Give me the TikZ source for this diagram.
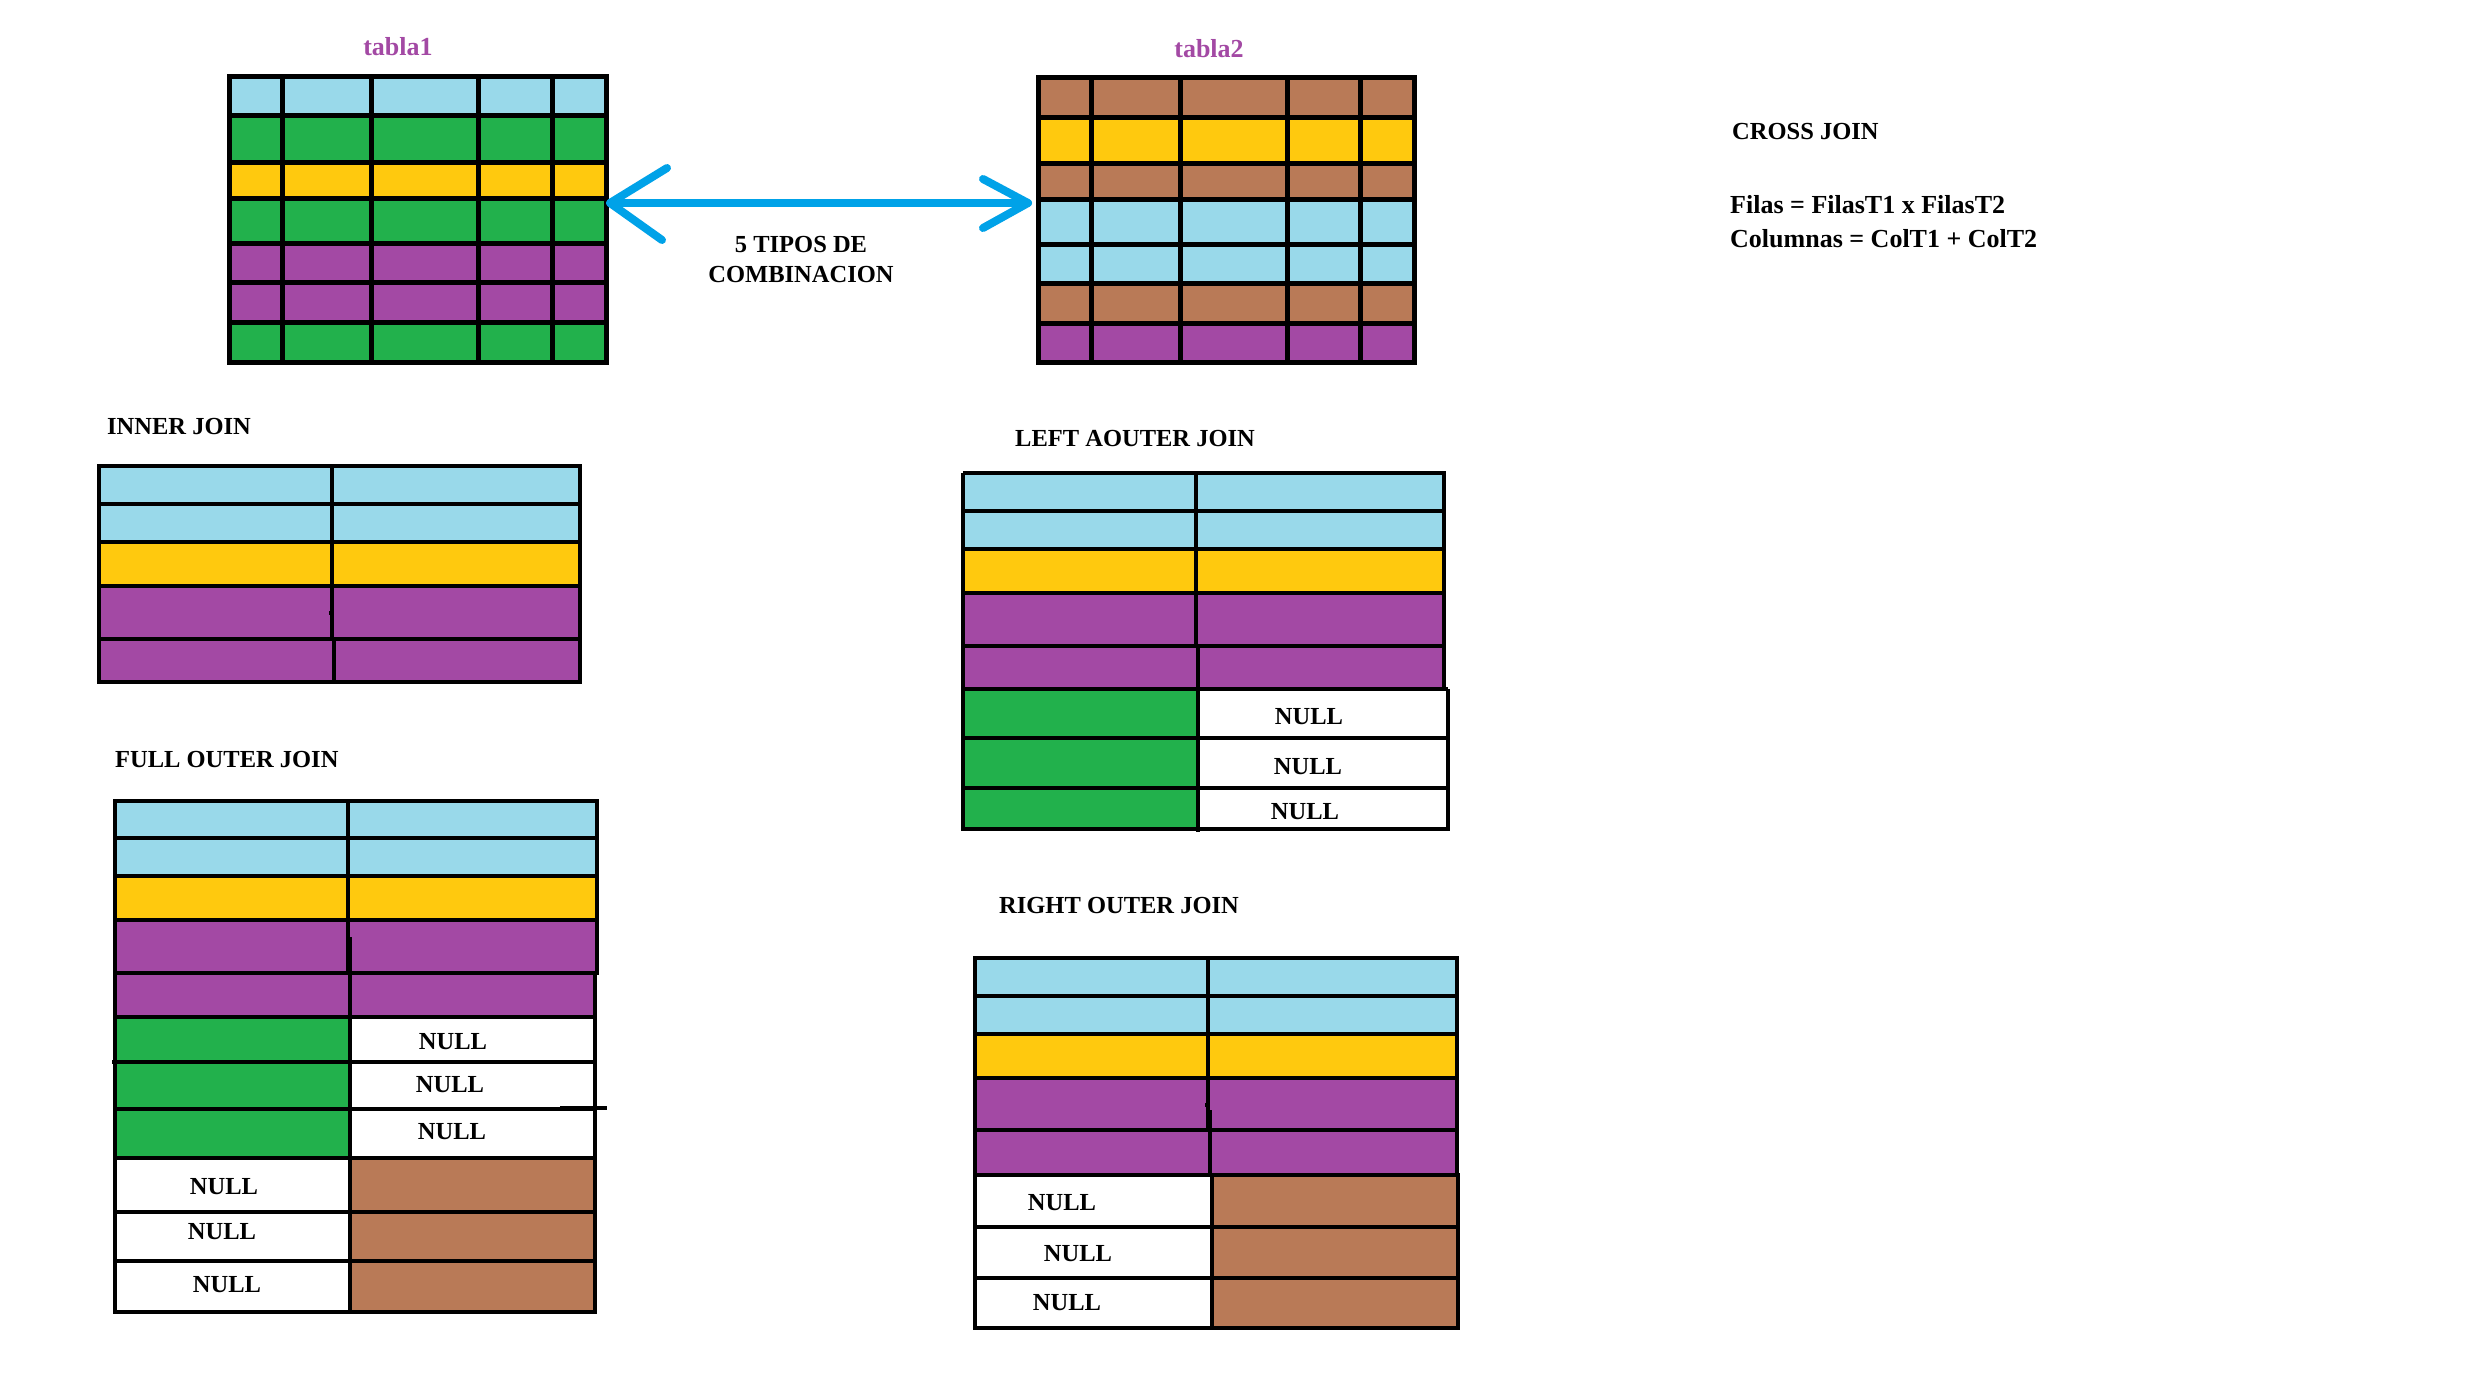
\documentclass[tikz,border=0pt]{standalone}
\usepackage{fontspec}
\setmainfont{Liberation Serif}
\definecolor{cBlue}{HTML}{99D9EA}
\definecolor{cGreen}{HTML}{22B14C}
\definecolor{cYellow}{HTML}{FFC90E}
\definecolor{cPurple}{HTML}{A349A4}
\definecolor{cBrown}{HTML}{B97A57}
\definecolor{cArrow}{HTML}{00A2E8}
\tikzset{
  txt/.style={font=\fontsize{24.5}{28}\selectfont\bfseries, inner sep=0pt, anchor=base west},
  formula/.style={font=\fontsize{26}{30}\selectfont\bfseries, inner sep=0pt, anchor=base west},
  ctxt/.style={font=\fontsize{24.5}{28}\selectfont\bfseries, inner sep=0pt},
  nulltxt/.style={font=\fontsize{24.5}{28}\selectfont\bfseries, inner sep=0pt},
  biggrid/.style={line width=5pt, black},
  joingrid/.style={line width=3.2pt, black},
  bluearrow/.style={line width=8pt, cArrow, line cap=round, line join=round}
}
\begin{document}
\begin{tikzpicture}[x=1pt,y=-1pt]
\useasboundingbox[fill=white] (0,0) rectangle (2475,1397);

% ---------- tabla1 ----------
\node[ctxt, anchor=base, text=cPurple, font=\fontsize{26}{30}\selectfont\bfseries] (lbl1) at (398,56) {tabla1};
\foreach \ya/\yb/\c in {76/115/cBlue,115/162/cGreen,162/198/cYellow,198/243/cGreen,243/282/cPurple,282/322/cPurple,322/362/cGreen}
  \fill[\c] (229,\ya) rectangle (606,\yb);
\foreach \y in {115,162,198,243,282,322} \draw[biggrid] (229,\y) -- (606,\y);
\foreach \x in {282,371,478,552} \draw[biggrid] (\x,74) -- (\x,362);
\draw[biggrid] (229,76) rectangle (606,362);

% ---------- tabla2 ----------
\node[ctxt, anchor=base, text=cPurple, font=\fontsize{26}{30}\selectfont\bfseries] (lbl2) at (1209,58) {tabla2};
\foreach \ya/\yb/\c in {77/117/cBrown,117/163/cYellow,163/199/cBrown,199/244/cBlue,244/283/cBlue,283/323/cBrown,323/362/cPurple}
  \fill[\c] (1038,\ya) rectangle (1414,\yb);
\foreach \y in {117,163,199,244,283,323} \draw[biggrid] (1038,\y) -- (1414,\y);
\foreach \x in {1091,1180,1287,1360} \draw[biggrid] (\x,75) -- (\x,362);
\draw[biggrid] (1038,77) rectangle (1414,362);

% ---------- double arrow between the tables ----------
\coordinate (tipL) at (610,203);
\coordinate (tipR) at (1028,203);
\draw[bluearrow] (tipL) -- (tipR);
\draw[bluearrow] (667,168) -- (tipL) -- (662,240);
\draw[bluearrow] (983,179) -- (tipR) -- (983,228);
\node[ctxt] (tipos) at (801,245) {5 TIPOS DE};
\node[ctxt] (comb) at (801,275) {COMBINACION};

% ---------- cross join ----------
\node[txt] (cross) at (1732,139) {CROSS JOIN};
\node[formula] (filas) at (1730,213) {Filas = FilasT1 x FilasT2};
\node[formula] (cols) at (1730,247) {Columnas = ColT1 + ColT2};

% ---------- inner join ----------
\node[txt] (inner) at (107,434) {INNER JOIN};
\foreach \ya/\yb/\c in {466/504/cBlue,504/542/cBlue,542/586/cYellow,586/639/cPurple,639/682/cPurple}
  \fill[\c] (99,\ya) rectangle (580,\yb);
\foreach \y in {504,542,586,639} \draw[joingrid] (99,\y) -- (580,\y);
\draw[joingrid] (332,466) -- (332,639);
\draw[joingrid] (334,639) -- (334,682);
\draw[joingrid] (329,613) -- (334,613);
\draw[joingrid] (99,466) rectangle (580,682);

% ---------- left outer join ----------
\node[txt] (left) at (1015,446) {LEFT AOUTER JOIN};
\foreach \ya/\yb/\c in {473/511/cBlue,511/549/cBlue,549/593/cYellow,593/646/cPurple,646/689/cPurple}
  \fill[\c] (963,\ya) rectangle (1444,\yb);
\fill[cGreen] (963,689) rectangle (1198,829);
\fill[white] (1198,689) rectangle (1448,829);
\foreach \y in {511,549,593,646} \draw[joingrid] (963,\y) -- (1444,\y);
\draw[joingrid] (963,689) -- (1448,689);
\foreach \y in {738,788} \draw[joingrid] (963,\y) -- (1448,\y);
\draw[joingrid] (963,473) -- (1444,473) -- (1444,689);
\draw[joingrid] (1448,689) -- (1448,829) -- (963,829) -- (963,473);
\draw[joingrid] (1196,473) -- (1196,646);
\draw[joingrid] (1198,646) -- (1198,832);
\draw[joingrid] (1194,620) -- (1198,620);
\node[nulltxt] (ln1) at (1309,717) {NULL};
\node[nulltxt] (ln2) at (1308,767) {NULL};
\node[nulltxt] (ln3) at (1305,812) {NULL};

% ---------- full outer join ----------
\node[txt] (full) at (115,767) {FULL OUTER JOIN};
\foreach \ya/\yb/\c in {801/838/cBlue,838/876/cBlue,876/920/cYellow,920/973/cPurple,973/1017/cPurple}
  \fill[\c] (115,\ya) rectangle (597,\yb);
\fill[cGreen] (115,1017) rectangle (350,1158);
\fill[white] (350,1017) rectangle (595,1158);
\fill[white] (115,1158) rectangle (350,1312);
\fill[cBrown] (350,1158) rectangle (595,1312);
\foreach \y in {838,920,973} \draw[joingrid] (115,\y) -- (597,\y);
\draw[joingrid] (115,876) -- (599,876);
\foreach \y in {1017,1109,1158,1212,1261} \draw[joingrid] (115,\y) -- (595,\y);
\draw[joingrid] (112,1062) -- (595,1062);
\draw[joingrid] (560,1108) -- (607,1108);
\draw[joingrid] (115,801) -- (597,801) -- (597,973) -- (595,973) -- (595,1312) -- (115,1312) -- cycle;
\draw[joingrid] (348,801) -- (348,973);
\draw[joingrid] (350,937) -- (350,1312);
\draw[joingrid] (346,947) -- (350,947);
\node[nulltxt] (fn1) at (453,1042) {NULL};
\node[nulltxt] (fn2) at (450,1085) {NULL};
\node[nulltxt] (fn3) at (452,1132) {NULL};
\node[nulltxt] (fn4) at (224,1187) {NULL};
\node[nulltxt] (fn5) at (222,1232) {NULL};
\node[nulltxt] (fn6) at (227,1285) {NULL};

% ---------- right outer join ----------
\node[txt] (right) at (999,913) {RIGHT OUTER JOIN};
\foreach \ya/\yb/\c in {958/996/cBlue,996/1034/cBlue,1034/1078/cYellow,1078/1130/cPurple,1130/1175/cPurple}
  \fill[\c] (975,\ya) rectangle (1457,\yb);
\fill[white] (975,1175) rectangle (1212,1328);
\fill[cBrown] (1212,1175) rectangle (1458,1328);
\foreach \y in {996,1034,1078,1130} \draw[joingrid] (975,\y) -- (1457,\y);
\draw[joingrid] (975,1175) -- (1458,1175);
\foreach \y in {1227,1278} \draw[joingrid] (973,\y) -- (1458,\y);
\draw[joingrid] (975,958) -- (1457,958) -- (1457,1175) -- (1458,1175) -- (1458,1328) -- (975,1328) -- cycle;
\draw[joingrid] (1208,958) -- (1208,1130);
\draw[joingrid] (1210,1110) -- (1210,1175);
\draw[joingrid] (1212,1175) -- (1212,1328);
\draw[joingrid] (1205,1105) -- (1209,1105);
\node[nulltxt] (rn1) at (1062,1203) {NULL};
\node[nulltxt] (rn2) at (1078,1254) {NULL};
\node[nulltxt] (rn3) at (1067,1303) {NULL};
\end{tikzpicture}
\end{document}
